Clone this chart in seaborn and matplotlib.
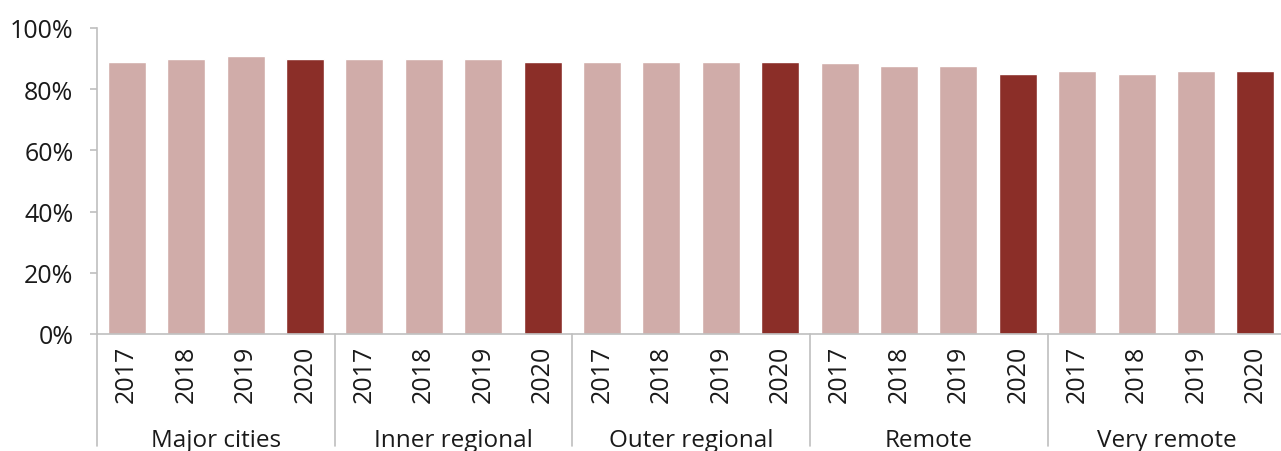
import pandas as pd
import matplotlib.pyplot as plt
import seaborn as sns

groups = ['Major cities', 'Inner regional', 'Outer regional', 'Remote', 'Very remote']
years = ['2017', '2018', '2019', '2020']
major = [89, 90, 91, 90]
inner = [90, 90, 90, 89]
outer = [89, 89, 89, 89]
remote = [88.5, 87.5, 87.5, 85]
very_remote = [86, 85, 86, 86]

light = '#D0ACA9'
dark = '#8B2E28'
grey = '#BFBFBF'

sns.set_style('white')
plt.rcParams['font.family'] = ['Open Sans', 'DejaVu Sans']

rows = []
for g, vals in zip(groups, [major, inner, outer, remote, very_remote]):
    for y, v in zip(years, vals):
        rows.append({'key': g + ' ' + y, 'year': y, 'value': v / 100})
data = pd.DataFrame(rows)
palette = [dark if y == '2020' else light for y in data.year]

fig = plt.figure(figsize=(12.81, 4.52), dpi=100)
ax = fig.add_axes([97 / 1281, 117 / 452, 1184 / 1281, 306 / 452])

sns.barplot(data=data, x='key', y='value', hue='key', palette=palette,
            legend=False, width=0.64, saturation=1, ax=ax)

ax.set_xlim(-0.5, 19.43)
ax.set_ylim(0, 1)
ax.set_yticks([0, 0.2, 0.4, 0.6, 0.8, 1.0])
ax.set_yticklabels(['0%', '20%', '40%', '60%', '80%', '100%'], fontsize=18, color='#1a1a1a')
ax.set_xticks(range(len(data)))
ax.set_xticklabels(data.year, rotation=90, fontsize=18, color='#1a1a1a')
ax.tick_params(axis='x', length=0, pad=8)
ax.tick_params(axis='y', length=5, color=grey, width=1.2, left=True, pad=12)
ax.set_xlabel('')
ax.set_ylabel('')

for s in ['top', 'right']:
    ax.spines[s].set_visible(False)
for s in ['left', 'bottom']:
    ax.spines[s].set_color(grey)
    ax.spines[s].set_linewidth(1.2)

trans = ax.get_xaxis_transform()
for i, g in enumerate(groups):
    x0 = i * 4 - 0.5
    ax.plot([x0, x0], [0, -0.365], transform=trans, color=grey, lw=1.2, clip_on=False)
    ax.text(x0 + 2, -0.345, g, transform=trans, ha='center', va='center',
            fontsize=17.5, color='#1a1a1a')

fig.savefig('out.png', dpi=100)
